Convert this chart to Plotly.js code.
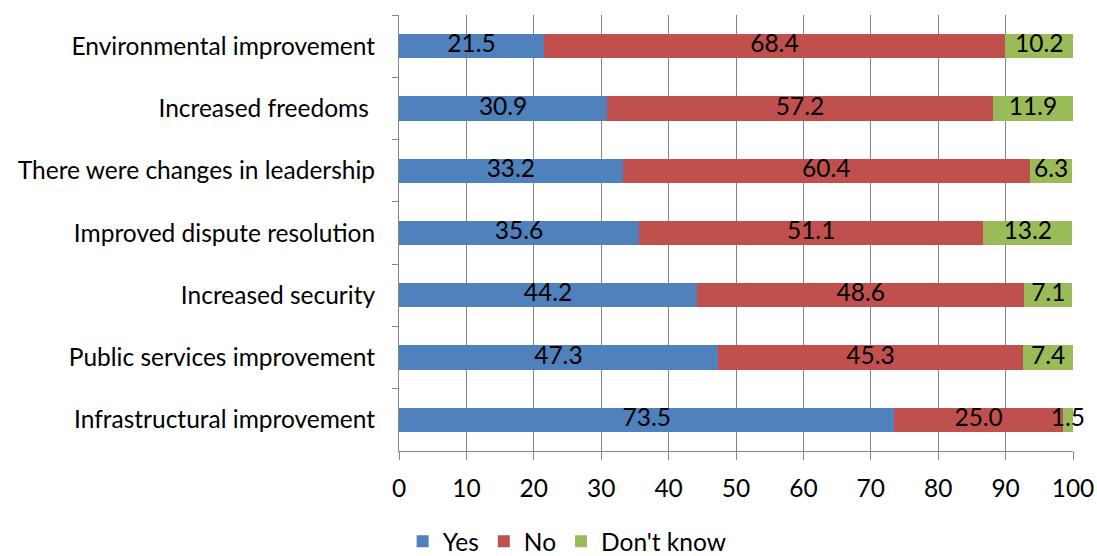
<!DOCTYPE html>
<html>
<head>
<meta charset="utf-8">
<script src="https://cdn.plot.ly/plotly-3.0.1.min.js"></script>
<style>html,body{margin:0;padding:0;background:#fff}#chart{width:1097px;height:556px}</style>
</head>
<body>
<div id="chart"></div>
<script>
// Survey items, listed top to bottom
const categories = [
  'Environmental improvement',
  'Increased freedoms ',
  'There were changes in leadership',
  'Improved dispute resolution',
  'Increased security',
  'Public services improvement',
  'Infrastructural improvement'
];
const yes = [21.5, 30.9, 33.2, 35.6, 44.2, 47.3, 73.5];
const no = [68.4, 57.2, 60.4, 51.1, 48.6, 45.3, 25.0];
const dontKnow = [10.2, 11.9, 6.3, 13.2, 7.1, 7.4, 1.5];
const xTicks = [0, 10, 20, 30, 40, 50, 60, 70, 80, 90, 100];

const FONT = 'Lato, "Open Sans", sans-serif';
const SIZE = 24.5;
const series = [
  {name: 'Yes', values: yes, color: '#4F81BD'},
  {name: 'No', values: no, color: '#C0504D'},
  {name: "Don't know", values: dontKnow, color: '#9BBB59'}
];

const traces = series.map(s => ({
  type: 'bar',
  orientation: 'h',
  name: s.name,
  x: s.values,
  y: categories,
  marker: {color: s.color, line: {width: 0}},
  hoverinfo: 'x+name'
}));

// Value labels centred on each segment (allowed to overflow thin segments)
const labelX = [], labelY = [], labelText = [];
categories.forEach((c, i) => {
  let start = 0;
  series.forEach(s => {
    const v = s.values[i];
    labelX.push(start + v / 2);
    labelY.push(c);
    labelText.push(v.toFixed(1));
    start += v;
  });
});
traces.push({
  type: 'scatter',
  mode: 'text',
  x: labelX,
  y: labelY,
  text: labelText,
  textposition: 'middle center',
  textfont: {family: FONT, size: SIZE, color: '#000'},
  cliponaxis: false,
  showlegend: false,
  hoverinfo: 'skip'
});

const layout = {
  barmode: 'stack',
  bargap: 0.61,
  width: 1097,
  height: 556,
  margin: {l: 399, r: 24, t: 15, b: 105},
  paper_bgcolor: '#fff',
  plot_bgcolor: '#fff',
  font: {family: FONT, size: SIZE, color: '#000'},
  xaxis: {
    range: [0, 100],
    tickvals: xTicks,
    ticktext: xTicks.map(String),
    showgrid: true,
    gridcolor: '#868686',
    gridwidth: 1,
    zeroline: false,
    showline: true,
    linecolor: '#868686',
    linewidth: 1,
    ticks: 'outside',
    ticklen: 8,
    tickcolor: '#868686',
    ticklabelstandoff: 8,
    fixedrange: true
  },
  yaxis: {
    type: 'category',
    autorange: 'reversed',
    showgrid: false,
    zeroline: false,
    showline: true,
    linecolor: '#868686',
    linewidth: 1,
    ticks: 'outside',
    tickson: 'boundaries',
    ticklen: 6,
    tickcolor: '#868686',
    ticklabelstandoff: 18,
    fixedrange: true
  },
  showlegend: true,
  legend: {
    orientation: 'h',
    traceorder: 'normal',
    xref: 'container',
    yref: 'container',
    x: 0.517,
    xanchor: 'center',
    y: 0.067,
    yanchor: 'top',
    font: {family: FONT, size: SIZE},
    itemwidth: 30,
    tracegroupgap: 0
  }
};

Plotly.newPlot('chart', traces, layout, {displayModeBar: false, staticPlot: true});
</script>
</body>
</html>
